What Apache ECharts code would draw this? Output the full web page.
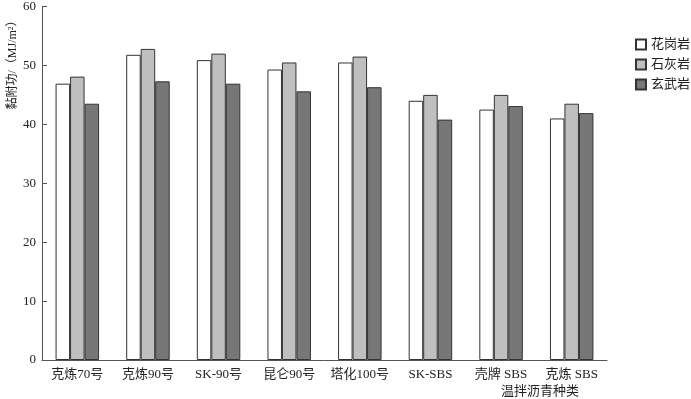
<!DOCTYPE html>
<html>
<head>
<meta charset="utf-8">
<title>黏附功</title>
<style>
	html,body{margin:0;padding:0;background:#fff;}
	#chart{width:691px;height:399px;}
</style>
</head>
<body>
<div id="chart"></div>
<script src="https://cdn.jsdelivr.net/npm/echarts@6/dist/echarts.min.js"></script>
<script>
var categories = ['克炼70号', '克炼90号', 'SK-90号', '昆仑90号', '塔化100号', 'SK-SBS', '壳牌 SBS', '克炼 SBS'];
var granite = [46.9, 51.8, 50.9, 49.3, 50.5, 44.0, 42.5, 41.0];
var limestone = [48.1, 52.8, 52.0, 50.5, 51.5, 45.0, 45.0, 43.5];
var basalt = [43.5, 47.3, 46.9, 45.6, 46.3, 40.8, 43.1, 41.9];
var yTicks = [0, 10, 20, 30, 40, 50, 60];

var font = "'Liberation Serif', 'Noto Sans CJK SC', serif";
var chart = echarts.init(document.getElementById('chart'));

function bar(name, data, color) {
	return {
		name: name,
		type: 'bar',
		data: data,
		barWidth: 14.5,
		barGap: '0%',
		itemStyle: { color: color, borderColor: '#333', borderWidth: 1 }
	};
}

var option = {
	animation: false,
	textStyle: { fontFamily: font },
	grid: { left: 42, right: 84, top: 5, bottom: 39 },
	legend: {
		orient: 'vertical',
		left: 635,
		top: 38,
		padding: 0,
		itemWidth: 10,
		itemHeight: 10,
		itemGap: 7,
		icon: 'rect',
		textStyle: { fontFamily: font, fontSize: 13, color: '#222' },
		data: ['花岗岩', '石灰岩', '玄武岩']
	},
	xAxis: {
		type: 'category',
		data: categories,
		axisLine: { lineStyle: { color: '#555' } },
		axisTick: { inside: true, length: 5, lineStyle: { color: '#555' } },
		axisLabel: { interval: 0, color: '#222', fontSize: 13, margin: 8, fontFamily: font }
	},
	yAxis: {
		type: 'value',
		min: yTicks[0],
		max: yTicks[yTicks.length - 1],
		interval: 10,
		splitLine: { show: false },
		axisLine: { show: true, lineStyle: { color: '#555' } },
		axisTick: { show: true, inside: true, length: 5, lineStyle: { color: '#555' } },
		axisLabel: { color: '#222', fontSize: 13, margin: 6, fontFamily: font }
	},
	graphic: [
		{
			type: 'text',
			x: 13, y: 62,
			rotation: Math.PI / 2,
			style: {
				text: '黏附功/（MJ/m²）',
				fontFamily: font, fontSize: 12, fill: '#222',
				align: 'center', verticalAlign: 'middle'
			}
		},
		{
			type: 'text',
			x: 540, y: 392,
			style: {
				text: '温拌沥青种类',
				fontFamily: font, fontSize: 13, fill: '#222',
				align: 'center', verticalAlign: 'middle'
			}
		}
	],
	series: [
		bar('花岗岩', granite, '#ffffff'),
		bar('石灰岩', limestone, '#bfbfbf'),
		bar('玄武岩', basalt, '#777777')
	]
};
chart.setOption(option);
</script>
</body>
</html>
